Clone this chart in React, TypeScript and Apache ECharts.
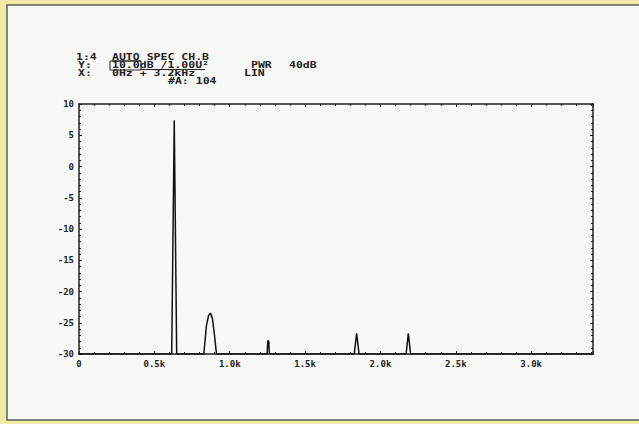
import React, { useEffect, useRef } from "react";
import * as echarts from "echarts";

// Spectrum trace: [frequency in kHz, level in dB]
const freqKHz = [0, 0.615, 0.632, 0.648, 0.828, 0.832, 0.845, 0.86, 0.873, 0.885, 0.898, 0.912, 1.248, 1.252, 1.259, 1.263, 1.826, 1.842, 1.858, 2.17, 2.185, 2.2, 3.41];
const levelDb = [-30, -30, 7.4, -30, -30, -29.0, -25.5, -23.8, -23.5, -24.3, -26.8, -30, -30, -27.9, -27.9, -30, -30, -26.7, -30, -30, -26.7, -30, -30];

const xTickLabels = ["0", "0.5k", "1.0k", "1.5k", "2.0k", "2.5k", "3.0k"];
const yMin = -30;
const yMax = 10;
const xMax = 3.41;

const headerLines = [
  { x: 76, y: 57, text: "1:4" },
  { x: 112, y: 57, text: "AUTO SPEC CH.B" },
  { x: 78, y: 65, text: "Y:" },
  { x: 112, y: 65, text: "10.0dB /1.00U²" },
  { x: 251, y: 65, text: "PWR" },
  { x: 289, y: 65, text: "40dB" },
  { x: 78, y: 73, text: "X:" },
  { x: 112, y: 73, text: "0Hz + 3.2kHz" },
  { x: 244, y: 73, text: "LIN" },
  { x: 168, y: 81, text: "#A: 104" },
];

export default function App() {
  const ref = useRef<HTMLDivElement>(null);
  useEffect(() => {
    if (!ref.current) return;
    const chart = echarts.init(ref.current, null, { renderer: "svg" });
    const data = freqKHz.map((f, i) => [f, levelDb[i]]);
    const font = "'DejaVu Sans Mono', monospace";
    const axisLine = { show: true, onZero: false, lineStyle: { color: "#222", width: 1.5 } };
    const tick = { show: true, inside: true, length: 3, lineStyle: { color: "#222" } };
    const minor = { show: true, splitNumber: 5, length: 2, lineStyle: { color: "#222" } };
    chart.setOption({
      animation: false,
      backgroundColor: "#f1e9a6",
      graphic: [
        {
          type: "rect",
          z: -10,
          shape: { x: 7, y: 5, width: 640, height: 415 },
          style: { fill: "#f8f8f7", stroke: "#5a5a5a", lineWidth: 1.5 },
        },
        ...headerLines.map((h) => ({
          type: "text",
          x: h.x,
          y: h.y,
          scaleX: 1.28,
          style: {
            text: h.text,
            font: `bold 9px ${font}`,
            fill: "#222",
            verticalAlign: "middle",
          },
        })),
        { type: "line", shape: { x1: 112, y1: 61, x2: 141, y2: 61 }, style: { stroke: "#222", lineWidth: 1 } },
        { type: "line", shape: { x1: 140, y1: 69.5, x2: 205, y2: 69.5 }, style: { stroke: "#222", lineWidth: 1 } },
        { type: "rect", shape: { x: 110, y: 61, width: 31, height: 9 }, style: { fill: "none", stroke: "#222", lineWidth: 1 } },
      ],
      grid: { left: 79, right: 46, top: 104, bottom: 70 },
      xAxis: [
        {
          type: "value",
          min: 0,
          max: xMax,
          interval: 0.5,
          position: "bottom",
          axisLine,
          splitLine: { show: false },
          axisTick: tick,
          minorTick: minor,
          axisLabel: {
            color: "#222",
            fontFamily: font,
            fontWeight: "bold",
            fontSize: 9,
            margin: 5,
            showMaxLabel: false,
            formatter: (v: number) => {
              const i = Math.round(v / 0.5);
              return Math.abs(v - i * 0.5) < 1e-6 && i < xTickLabels.length ? xTickLabels[i] : "";
            },
          },
        },
        {
          type: "value",
          min: 0,
          max: xMax,
          interval: 0.5,
          position: "top",
          axisLine,
          splitLine: { show: false },
          axisTick: tick,
          minorTick: minor,
          axisLabel: { show: false },
        },
      ],
      yAxis: [
        {
          type: "value",
          min: yMin,
          max: yMax,
          interval: 5,
          position: "left",
          axisLine,
          splitLine: { show: false },
          axisTick: tick,
          minorTick: minor,
          axisLabel: {
            color: "#222",
            fontFamily: font,
            fontWeight: "bold",
            fontSize: 9,
            margin: 5,
          },
        },
        {
          type: "value",
          min: yMin,
          max: yMax,
          interval: 5,
          position: "right",
          axisLine,
          splitLine: { show: false },
          axisTick: tick,
          minorTick: minor,
          axisLabel: { show: false },
        },
      ],
      series: [
        {
          type: "line",
          data,
          xAxisIndex: 0,
          yAxisIndex: 0,
          showSymbol: false,
          smooth: false,
          lineStyle: { color: "#111", width: 1.5 },
          clip: true,
        },
      ],
    });
    return () => chart.dispose();
  }, []);
  return (
    <div
      ref={ref}
      style={{ position: "fixed", left: 0, top: 0, width: 639, height: 424 }}
    />
  );
}
